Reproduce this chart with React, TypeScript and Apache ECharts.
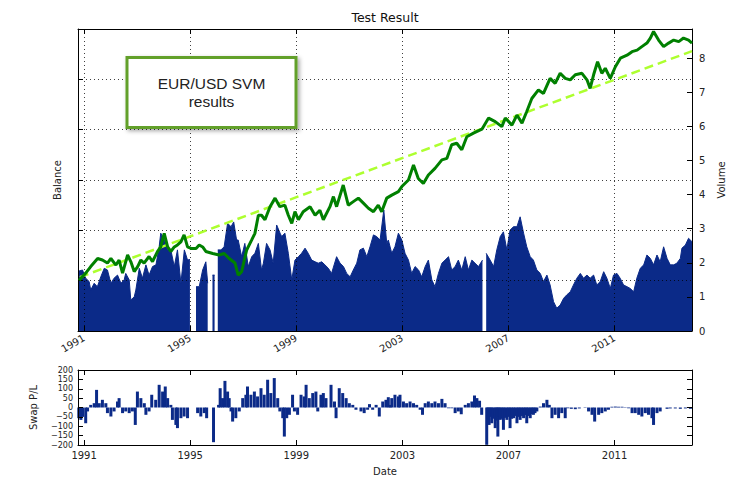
import React, { useEffect, useRef } from 'react';
import * as echarts from 'echarts';

const yearTicks = [1991, 1995, 1999, 2003, 2007, 2011];

// Balance (left axis, unlabeled units)
const balance: [number, number][] = [
  [1990.81, 1.01], [1991.06, 1.15], [1991.25, 1.28], [1991.51, 1.44], [1991.69, 1.41], [1991.88, 1.35],
  [1992.01, 1.44], [1992.2, 1.31], [1992.32, 1.41], [1992.45, 1.15], [1992.64, 1.51], [1992.76, 1.38],
  [1992.89, 1.18], [1993.02, 1.28], [1993.14, 1.41], [1993.26, 1.35], [1993.45, 1.48], [1993.58, 1.38],
  [1993.77, 1.58], [1993.89, 1.67], [1994.02, 1.94], [1994.15, 1.67], [1994.27, 1.58], [1994.4, 1.67],
  [1994.52, 1.71], [1994.65, 1.77], [1994.77, 1.91], [1994.9, 1.67], [1995.03, 1.64], [1995.22, 1.64],
  [1995.34, 1.71], [1995.47, 1.67], [1995.59, 1.58], [1995.85, 1.54], [1996.09, 1.51], [1996.28, 1.54],
  [1996.47, 1.44], [1996.69, 1.35], [1996.81, 1.11], [1996.94, 1.18], [1997.13, 1.61], [1997.32, 1.81],
  [1997.44, 1.94], [1997.57, 2.3], [1997.69, 2.3], [1997.82, 2.21], [1998.01, 2.47], [1998.2, 2.64],
  [1998.38, 2.47], [1998.57, 2.5], [1998.7, 2.3], [1998.83, 2.14], [1998.95, 2.37], [1999.08, 2.21],
  [1999.26, 2.37], [1999.52, 2.47], [1999.71, 2.3], [1999.89, 2.4], [2000.02, 2.21], [2000.27, 2.47],
  [2000.4, 2.67], [2000.52, 2.47], [2000.77, 2.9], [2000.96, 2.5], [2001.15, 2.57], [2001.34, 2.64],
  [2001.53, 2.54], [2001.72, 2.44], [2001.91, 2.37], [2002.09, 2.5], [2002.22, 2.37], [2002.41, 2.64],
  [2002.6, 2.7], [2002.85, 2.77], [2002.98, 2.87], [2003.23, 3.0], [2003.42, 3.3], [2003.6, 3.03],
  [2003.79, 2.93], [2003.98, 3.1], [2004.23, 3.23], [2004.49, 3.4], [2004.68, 3.43], [2004.86, 3.7],
  [2005.05, 3.73], [2005.24, 3.6], [2005.43, 3.86], [2005.68, 3.93], [2006.0, 4.01], [2006.25, 4.23],
  [2006.5, 4.16], [2006.75, 4.06], [2006.88, 4.23], [2007.13, 4.09], [2007.32, 4.29], [2007.51, 4.13],
  [2007.69, 4.36], [2007.88, 4.62], [2008.13, 4.79], [2008.32, 4.72], [2008.57, 5.02], [2008.76, 4.92],
  [2008.95, 5.12], [2009.14, 5.02], [2009.33, 4.99], [2009.52, 5.09], [2009.77, 5.12], [2009.96, 4.99],
  [2010.08, 4.82], [2010.21, 5.09], [2010.36, 5.35], [2010.52, 5.12], [2010.65, 5.22], [2010.84, 5.02],
  [2011.03, 5.25], [2011.22, 5.42], [2011.47, 5.48], [2011.66, 5.55], [2011.85, 5.58], [2012.03, 5.65],
  [2012.22, 5.72], [2012.35, 5.82], [2012.47, 5.95], [2012.66, 5.78], [2012.85, 5.65], [2013.04, 5.72],
  [2013.23, 5.78], [2013.42, 5.75], [2013.6, 5.82], [2013.79, 5.78], [2013.92, 5.72],
];

// Linear trend (dashed)
const trend: [number, number][] = [[1990.84, 1.07], [2013.92, 5.56]];

// Volume (right axis); null = no data
const volume: [number, number | null][] = [
  [1990.77, 1.75], [1990.94, 1.79], [1991.06, 1.55], [1991.19, 1.45], [1991.25, 1.2], [1991.38, 1.4],
  [1991.5, 1.3], [1991.63, 1.59], [1991.76, 1.84], [1991.88, 1.79], [1992.01, 1.4], [1992.13, 1.55],
  [1992.26, 1.64], [1992.39, 1.4], [1992.51, 1.5], [1992.57, 1.69], [1992.7, 1.5], [1992.76, 0.91],
  [1992.89, 1.0], [1992.95, 1.2], [1993.08, 1.84], [1993.2, 1.55], [1993.33, 1.94], [1993.45, 1.64],
  [1993.58, 1.89], [1993.71, 1.94], [1993.83, 2.47], [1993.89, 2.87], [1994.02, 2.67], [1994.15, 2.38],
  [1994.27, 2.38], [1994.4, 1.89], [1994.52, 2.38], [1994.65, 1.4], [1994.78, 2.38], [1994.9, 2.08],
  [1994.99, 2.1], [1995.1, null], [1995.22, 1.3], [1995.34, 1.3], [1995.47, 1.79], [1995.59, 2.03],
  [1995.66, 1.4], [1995.76, null], [1995.84, 1.64], [1995.92, 1.64], [1995.98, null], [1996.04, 2.38],
  [1996.16, 2.38], [1996.28, 2.47], [1996.41, 3.16], [1996.54, 3.06], [1996.64, 3.2], [1996.75, 2.67],
  [1996.81, 2.67], [1996.94, 2.18], [1997.06, 2.57], [1997.19, 1.89], [1997.32, 2.18], [1997.44, 2.28],
  [1997.57, 2.57], [1997.69, 1.79], [1997.76, 1.99], [1997.88, 2.57], [1998.01, 2.38], [1998.13, 1.99],
  [1998.26, 3.11], [1998.39, 2.87], [1998.45, 2.77], [1998.57, 2.87], [1998.7, 2.28], [1998.83, 1.5],
  [1998.95, 2.08], [1999.08, 2.18], [1999.2, 2.28], [1999.33, 2.43], [1999.45, 2.28], [1999.58, 2.08],
  [1999.71, 2.03], [1999.83, 1.99], [1999.96, 2.03], [2000.08, 1.94], [2000.21, 1.84], [2000.33, 1.69],
  [2000.52, 2.18], [2000.65, 1.99], [2000.78, 1.89], [2000.9, 1.69], [2001.03, 1.59], [2001.15, 1.79],
  [2001.28, 1.99], [2001.4, 2.38], [2001.53, 2.43], [2001.66, 2.18], [2001.78, 2.47], [2001.91, 2.82],
  [2002.03, 2.77], [2002.16, 2.67], [2002.3, 3.55], [2002.41, 2.57], [2002.47, 2.67], [2002.6, 2.28],
  [2002.72, 2.47], [2002.85, 2.87], [2002.98, 2.67], [2003.1, 2.28], [2003.23, 2.08], [2003.35, 1.69],
  [2003.48, 1.89], [2003.61, 1.79], [2003.73, 1.59], [2003.86, 1.89], [2003.98, 2.08], [2004.11, 1.5],
  [2004.23, 1.3], [2004.36, 1.69], [2004.49, 1.99], [2004.61, 2.08], [2004.74, 2.18], [2004.86, 1.79],
  [2004.99, 1.89], [2005.11, 2.08], [2005.24, 1.79], [2005.37, 2.18], [2005.49, 1.79], [2005.62, 2.08],
  [2005.74, 1.99], [2005.87, 1.89], [2006.02, 2.08], [2006.1, null], [2006.16, 2.28], [2006.31, 2.08],
  [2006.44, 1.89], [2006.56, 2.38], [2006.69, 2.77], [2006.81, 2.91], [2006.94, 2.38], [2007.06, 2.96],
  [2007.19, 3.06], [2007.32, 3.06], [2007.44, 3.35], [2007.57, 2.87], [2007.69, 2.47], [2007.82, 2.18],
  [2007.94, 2.08], [2008.07, 1.79], [2008.2, 1.69], [2008.32, 1.45], [2008.45, 1.64], [2008.57, 1.35],
  [2008.7, 0.86], [2008.82, 0.67], [2008.95, 0.76], [2009.08, 0.96], [2009.2, 1.06], [2009.33, 1.15],
  [2009.45, 1.35], [2009.58, 1.55], [2009.71, 1.69], [2009.83, 1.55], [2009.96, 1.64], [2010.08, 1.55],
  [2010.21, 1.64], [2010.33, 1.35], [2010.46, 1.45], [2010.59, 1.74], [2010.71, 1.55], [2010.84, 1.25],
  [2010.96, 1.64], [2011.09, 1.69], [2011.21, 1.55], [2011.34, 1.35], [2011.47, 1.3], [2011.59, 1.25],
  [2011.72, 1.15], [2011.84, 1.55], [2011.97, 1.84], [2012.1, 1.94], [2012.22, 2.23], [2012.35, 2.13],
  [2012.47, 1.94], [2012.6, 2.23], [2012.72, 2.03], [2012.85, 2.47], [2012.98, 2.13], [2013.1, 1.94],
  [2013.23, 1.94], [2013.35, 1.99], [2013.48, 2.13], [2013.54, 2.43], [2013.67, 2.52], [2013.79, 2.72],
  [2013.92, 2.62],
];

// Swap P/L (bottom panel)
const swap: [number, number][] = [
  [1990.8, -57], [1990.88, -66], [1990.94, -50], [1991.06, -84], [1991.13, -21], [1991.25, 14],
  [1991.38, 23], [1991.47, 94], [1991.57, 23], [1991.69, 41], [1991.82, 23], [1991.88, -30],
  [1992.01, -48], [1992.13, -21], [1992.26, 32], [1992.32, 50], [1992.45, -30], [1992.57, -21],
  [1992.7, -30], [1992.82, -21], [1992.93, -93], [1993.01, 85], [1993.14, 50], [1993.27, 23],
  [1993.33, -39], [1993.45, -21], [1993.55, 68], [1993.7, 41], [1993.83, 121], [1993.96, 85],
  [1994.06, 112], [1994.15, 50], [1994.27, 14], [1994.33, -66], [1994.46, -93], [1994.52, -110],
  [1994.65, -57], [1994.77, -48], [1994.9, -57], [1995.28, -30], [1995.4, -48], [1995.53, -30],
  [1995.62, -57], [1995.88, -185], [1996.07, 14], [1996.13, 103], [1996.22, 50], [1996.31, 142],
  [1996.41, 85], [1996.47, 50], [1996.54, -21], [1996.6, -75], [1996.72, -57], [1996.85, -21],
  [1996.98, 50], [1997.1, 68], [1997.16, 112], [1997.29, 68], [1997.42, 85], [1997.54, 59],
  [1997.67, 103], [1997.79, 68], [1997.92, 148], [1998.04, 77], [1998.17, 157], [1998.3, 50],
  [1998.38, -21], [1998.49, -57], [1998.55, -155], [1998.64, -57], [1998.74, -39], [1998.86, 68],
  [1998.93, -21], [1999.05, -39], [1999.18, 68], [1999.3, 59], [1999.37, 121], [1999.49, 50],
  [1999.62, 77], [1999.74, 85], [1999.81, -21], [1999.93, 68], [2000.02, 77], [2000.12, 50],
  [2000.31, 121], [2000.44, 32], [2000.5, -57], [2000.62, 103], [2000.75, 77], [2000.88, 50],
  [2001.0, 23], [2001.13, 14], [2001.25, -12], [2001.44, -21], [2001.56, -30], [2001.69, -12],
  [2001.76, 18], [2001.88, -12], [2002.01, 14], [2002.13, -48], [2002.26, 32], [2002.38, 41],
  [2002.47, 55], [2002.54, 14], [2002.6, 50], [2002.72, 68], [2002.85, 59], [2002.91, 68],
  [2003.04, 32], [2003.16, 23], [2003.29, 32], [2003.42, 23], [2003.54, 14], [2003.67, -12],
  [2003.76, -39], [2003.86, 23], [2003.98, 32], [2004.11, 23], [2004.23, 32], [2004.36, 23],
  [2004.49, 46], [2004.61, 23], [2004.74, -4], [2004.86, -4], [2004.99, -30], [2005.11, -21],
  [2005.22, -36], [2005.37, 14], [2005.49, 23], [2005.62, 32], [2005.72, 64], [2005.81, 50],
  [2005.91, 36], [2005.99, -39], [2006.18, -199], [2006.22, -60], [2006.27, -93], [2006.32, -50],
  [2006.37, -84], [2006.43, -60], [2006.5, -110], [2006.55, -70], [2006.6, -155], [2006.64, -50],
  [2006.69, -66], [2006.75, -60], [2006.81, -119], [2006.87, -55], [2006.94, -66], [2007.0, -50],
  [2007.06, -110], [2007.12, -60], [2007.19, -57], [2007.25, -45], [2007.32, -84], [2007.38, -50],
  [2007.44, -66], [2007.5, -45], [2007.57, -57], [2007.63, -40], [2007.69, -84], [2007.75, -45],
  [2007.82, -57], [2007.88, -35], [2007.94, -39], [2008.0, -30], [2008.07, -21], [2008.2, 5],
  [2008.32, 23], [2008.45, 41], [2008.54, 14], [2008.64, -57], [2008.76, -39], [2008.89, -57],
  [2009.01, -30], [2009.14, -57], [2009.24, -4], [2009.37, -7], [2009.52, -9], [2009.67, -5],
  [2009.89, 2], [2010.02, -21], [2010.15, -39], [2010.25, -75], [2010.4, -39], [2010.52, -30],
  [2010.65, -21], [2010.77, -12], [2010.9, 4], [2011.03, 5], [2011.15, 4], [2011.28, 4],
  [2011.4, 2], [2011.53, -4], [2011.66, -30], [2011.78, -30], [2011.91, -39], [2012.03, -48],
  [2012.16, -30], [2012.28, -39], [2012.41, -57], [2012.47, -93], [2012.6, -30], [2012.72, -21],
  [2012.98, -7], [2013.1, -5], [2013.29, -5], [2013.48, -7], [2013.67, -5], [2013.86, -7],
];

const NAVY = '#0b2a88';
const FONT = 'DejaVu Sans';

export default function App() {
  const ref = useRef<HTMLDivElement>(null);
  useEffect(() => {
    document.body.style.margin = '0';
    const chart = echarts.init(ref.current!, null, { renderer: 'svg' });
    const gridLine = { show: true, lineStyle: { color: '#000', width: 1, type: [1, 3], opacity: 0.75 } };
    const tickIn = { show: true, inside: true, length: 5, lineStyle: { color: '#000', width: 1 } };
    const axLine = { show: true, onZero: false, lineStyle: { color: '#000', width: 1 } };
    const lbl = { color: '#222', fontFamily: FONT, fontSize: 10 };
    const xBase = { type: 'value', min: 1990.77, max: 2013.92, axisLine: axLine, z: 3 };
    const yearFmt = (v: number) => String(Math.round(v));

    chart.setOption({
      animation: false,
      textStyle: { fontFamily: FONT },
      grid: [
        { left: 78, top: 29, width: 614, height: 302 },
        { left: 78, top: 370, width: 614, height: 75 },
      ],
      xAxis: [
        {
          ...xBase, gridIndex: 0, position: 'bottom',
          axisTick: { ...tickIn, customValues: yearTicks },
          axisLabel: { ...lbl, customValues: yearTicks, rotate: 30, margin: 6, formatter: yearFmt },
          splitLine: gridLine,
        },
        {
          ...xBase, gridIndex: 0, position: 'top',
          axisTick: { ...tickIn, customValues: yearTicks },
          axisLabel: { show: false }, splitLine: { show: false },
        },
        {
          ...xBase, gridIndex: 1, position: 'bottom',
          axisTick: { ...tickIn, customValues: yearTicks },
          axisLabel: { ...lbl, customValues: yearTicks, margin: 5, formatter: yearFmt },
          splitLine: { show: false },
          name: 'Date', nameLocation: 'middle', nameGap: 21, nameTextStyle: { ...lbl },
        },
        {
          ...xBase, gridIndex: 1, position: 'top',
          axisTick: { ...tickIn, customValues: yearTicks },
          axisLabel: { show: false }, splitLine: { show: false },
        },
      ],
      yAxis: [
        {
          type: 'value', gridIndex: 0, position: 'left', min: 0, max: 6, interval: 1, z: 3,
          axisLine: axLine, axisTick: tickIn, axisLabel: { show: false }, splitLine: gridLine,
          name: 'Balance', nameLocation: 'middle', nameGap: 16, nameRotate: 90, nameTextStyle: { ...lbl },
        },
        {
          type: 'value', gridIndex: 0, position: 'right', min: 0, max: 8.86, interval: 1, z: 3,
          axisLine: axLine, axisTick: tickIn,
          axisLabel: { ...lbl, margin: 7, showMaxLabel: false, formatter: (v: number) => (Number.isInteger(v) ? String(v) : '') },
          splitLine: { show: false },
          name: 'Volume', nameLocation: 'middle', nameGap: 17, nameRotate: 90, nameTextStyle: { ...lbl },
        },
        {
          type: 'value', gridIndex: 1, position: 'left', min: -200, max: 200, interval: 50, z: 3,
          axisLine: axLine, axisTick: tickIn,
          axisLabel: {
            ...lbl, fontSize: 8, lineHeight: 8, margin: 5, interval: 0, showMinLabel: true, showMaxLabel: true,
            hideOverlap: false,
            formatter: (v: number) => String(v).replace('-', '\u2212'),
          },
          splitLine: { show: false },
          name: 'Swap P/L', nameLocation: 'middle', nameGap: 40, nameRotate: 90, nameTextStyle: { ...lbl },
        },
        {
          type: 'value', gridIndex: 1, position: 'right', min: -200, max: 200, interval: 50, z: 3,
          axisLine: axLine, axisTick: tickIn, axisLabel: { show: false }, splitLine: { show: false },
        },
      ],
      series: [
        {
          type: 'line', name: 'Volume', xAxisIndex: 0, yAxisIndex: 1, data: volume,
          symbol: 'none', showSymbol: false, connectNulls: false,
          lineStyle: { color: NAVY, width: 1 }, itemStyle: { color: NAVY },
          areaStyle: { color: NAVY, opacity: 1 }, z: 2,
        },
        {
          type: 'line', name: 'Trend', xAxisIndex: 0, yAxisIndex: 0, data: trend, symbol: 'none',
          lineStyle: { color: '#adff2f', width: 2.5, type: [9, 5] }, z: 4,
        },
        {
          type: 'line', name: 'Balance', xAxisIndex: 0, yAxisIndex: 0, data: balance, symbol: 'none',
          lineStyle: { color: '#008000', width: 3 }, z: 5,
        },
        {
          type: 'bar', name: 'Swap P/L', xAxisIndex: 2, yAxisIndex: 2, data: swap,
          barWidth: 3, itemStyle: { color: NAVY }, z: 2,
        },
      ],
      graphic: [
        {
          type: 'text', x: 385, y: 17, z: 10,
          style: { text: 'Test Result', font: '12.5px "DejaVu Sans"', fill: '#111', align: 'center', verticalAlign: 'middle' },
        },
        {
          type: 'rect', z: 100, shape: { x: 127, y: 57.5, width: 169, height: 70 },
          style: { fill: '#fff', stroke: '#62a02c', lineWidth: 3, shadowBlur: 4, shadowOffsetX: 2, shadowOffsetY: 2, shadowColor: 'rgba(0,0,0,0.35)' },
        },
        {
          type: 'text', x: 211.5, y: 83, z: 101,
          style: { text: 'EUR/USD SVM', font: '15.5px "Liberation Sans"', fill: '#222', align: 'center', verticalAlign: 'middle' },
        },
        {
          type: 'text', x: 211.5, y: 101, z: 101,
          style: { text: 'results', font: '15.5px "Liberation Sans"', fill: '#222', align: 'center', verticalAlign: 'middle' },
        },
      ],
    });
    return () => chart.dispose();
  }, []);
  return <div ref={ref} style={{ width: 739, height: 480 }} />;
}
